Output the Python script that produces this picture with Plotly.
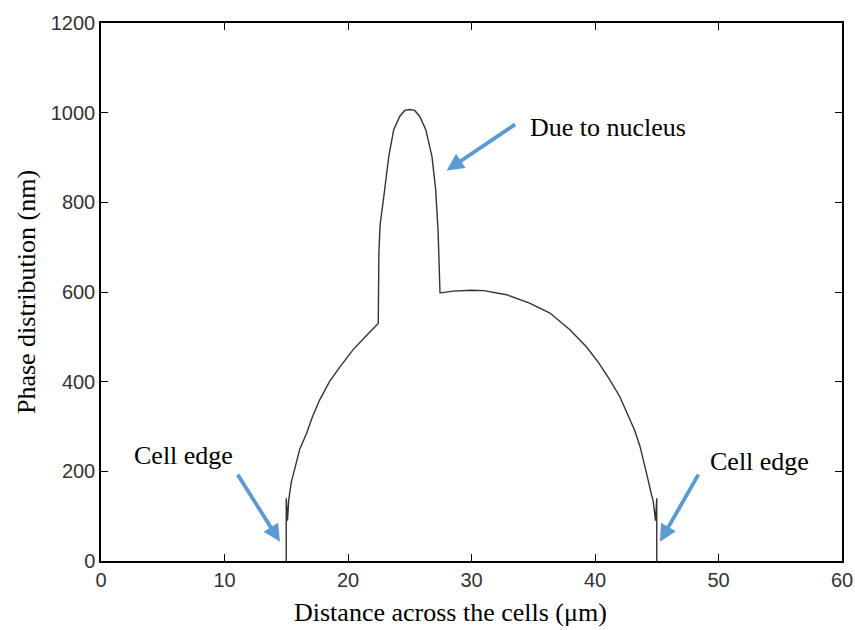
import plotly.graph_objects as go

# Phase profile across the cell (x in µm, phase in nm)
distance_um = [15.0, 15.0, 15.1, 15.2, 15.4, 15.7, 16.1, 16.65, 17.1, 17.7, 18.5, 19.35, 20.4,
               21.4, 22.4, 22.45, 22.5, 22.6, 22.9, 23.3, 23.7, 24.2, 24.6, 25.0, 25.4, 25.8,
               26.3, 26.8, 27.1, 27.3, 27.45, 27.5, 28.5, 30.0, 31.0, 32.85, 34.7, 36.35,
               37.97, 39.3, 40.3, 41.2, 42.0, 42.6, 43.2, 43.65, 44.0, 44.3, 44.55, 44.7,
               44.9, 45.0, 45.0]
phase_nm = [0, 140, 90, 136, 175, 210, 250, 285, 320, 359, 400, 433, 471,
            500, 527, 530, 687, 750, 813, 902, 962, 992, 1005, 1007, 1005, 992,
            962, 902, 828, 732, 598, 598, 602, 604, 603, 594, 575, 553,
            516, 478, 442, 404, 367, 330, 292, 255, 218, 181, 150, 136,
            90, 140, 0]

x_ticks = [0, 10, 20, 30, 40, 50, 60]
y_ticks = [0, 200, 400, 600, 800, 1000, 1200]

x_title = "Distance across the cells (μm)"
y_title = "Phase distribution (nm)"

# annotations: (text, x, y)
labels = [("Cell edge", 6.64, 236), ("Due to nucleus", 41.05, 968), ("Cell edge", 53.3, 223)]
# arrows: (head_x, head_y, tail_x, tail_y)
arrows = [(14.49, 43, 10.99, 196), (27.99, 871, 33.65, 976), (45.26, 43, 48.44, 196)]

serif = dict(family="Liberation Serif", size=26, color="black")

fig = go.Figure()
fig.add_trace(go.Scatter(x=distance_um, y=phase_nm, mode="lines",
                         line=dict(color="#333333", width=1.4), showlegend=False))

for t, x, y in labels:
    fig.add_annotation(x=x, y=y, text=t, showarrow=False, font=serif)
for hx, hy, tx, ty in arrows:
    fig.add_annotation(x=hx, y=hy, ax=tx, ay=ty, xref="x", yref="y", axref="x", ayref="y",
                       text="", showarrow=True, arrowhead=2, arrowsize=0.9,
                       arrowwidth=3.8, arrowcolor="#5B9BD5")

# x-axis title placed slightly left of centre, as in the original
fig.add_annotation(text=x_title, xref="paper", yref="paper", x=0.471, y=-0.095,
                   xanchor="center", yanchor="middle", showarrow=False, font=serif)

axis_common = dict(showgrid=False, zeroline=False, showline=True, linecolor="black",
                   linewidth=1.5, mirror="ticks", ticks="inside", ticklen=7,
                   tickwidth=1.2, tickcolor="black", automargin=False,
                   tickfont=dict(family="Liberation Sans", size=20, color="#333333"))

fig.update_xaxes(range=[0, 60], tickvals=x_ticks, **axis_common)
fig.update_yaxes(range=[0, 1200], tickvals=y_ticks, **axis_common,
                 title=dict(text=y_title, standoff=8, font=serif))

fig.update_layout(width=855, height=630, margin=dict(l=101, r=13, t=23, b=69),
                  plot_bgcolor="white", paper_bgcolor="white")

fig.write_html("out.html")
